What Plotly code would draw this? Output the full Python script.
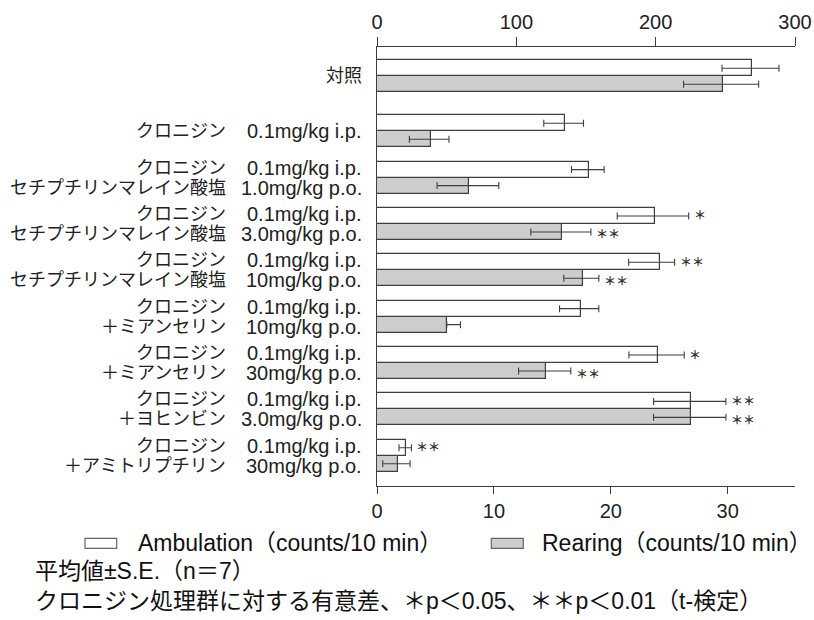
import plotly.graph_objects as go

# ---------------- data ----------------
groups = ["対照", "クロニジン", "セチプチリン1.0", "セチプチリン3.0", "セチプチリン10",
          "ミアンセリン10", "ミアンセリン30", "ヨヒンビン3.0", "アミトリプチリン30"]
label_line1_name = ["", "クロニジン", "クロニジン", "クロニジン", "クロニジン",
                    "クロニジン", "クロニジン", "クロニジン", "クロニジン"]
label_line1_dose = ["対照", "0.1mg/kg i.p.", "0.1mg/kg i.p.", "0.1mg/kg i.p.", "0.1mg/kg i.p.",
                    "0.1mg/kg i.p.", "0.1mg/kg i.p.", "0.1mg/kg i.p.", "0.1mg/kg i.p."]
label_line2_name = ["", "", "セチプチリンマレイン酸塩", "セチプチリンマレイン酸塩", "セチプチリンマレイン酸塩",
                    "＋ミアンセリン", "＋ミアンセリン", "＋ヨヒンビン", "＋アミトリプチリン"]
label_line2_dose = ["", "", "1.0mg/kg p.o.", "3.0mg/kg p.o.", "10mg/kg p.o.",
                    "10mg/kg p.o.", "30mg/kg p.o.", "3.0mg/kg p.o.", "30mg/kg p.o."]

ambulation = [269.3, 135.0, 152.3, 199.2, 202.8, 146.1, 201.8, 225.3, 20.8]
amb_err_minus = [21.7, 15.3, 12.7, 26.8, 22.2, 15.1, 21.0, 26.8, 5.0]
amb_err_plus = [19.2, 13.2, 10.7, 24.5, 10.8, 13.1, 18.7, 25.1, 3.9]
amb_sig = ["", "", "", "＊", "＊＊", "", "＊", "＊＊", "＊＊"]

rearing = [29.57, 4.60, 7.91, 15.84, 17.61, 5.97, 14.44, 26.86, 1.83]
rear_err_minus = [3.34, 1.83, 2.77, 2.68, 1.63, 0.0, 2.33, 3.20, 1.34]
rear_err_plus = [3.08, 1.56, 2.51, 2.46, 1.37, 1.17, 2.14, 2.99, 1.00]
rear_sig = ["", "", "", "＊＊", "＊＊", "", "＊＊", "＊＊", ""]

top_ticks = [0, 100, 200, 300]
bottom_ticks = [0, 10, 20, 30]

legend_amb = "Ambulation（counts/10 min）"
legend_rear = "Rearing（counts/10 min）"
note1 = "平均値±S.E.（n＝7）"
note2 = "クロニジン処理群に対する有意差、＊p＜0.05、＊＊p＜0.01（t-検定）"

# ---------------- layout helpers ----------------
FONT = "Liberation Sans, Arial, Noto Sans CJK JP, sans-serif"
EDGE = "#3f3f3f"
GRAY = "#cdcdcd"

first_gap = 1.185
pos = [0.0] + [first_gap + i for i in range(len(groups) - 1)]
bw = 0.345
y_amb = [p - bw / 2 for p in pos]
y_rear = [p + bw / 2 for p in pos]

fig = go.Figure()

fig.add_trace(go.Bar(
    y=y_amb, x=ambulation, orientation="h", width=bw, xaxis="x2", yaxis="y",
    marker=dict(color="white", line=dict(color=EDGE, width=1.2)),
    error_x=dict(type="data", symmetric=False, array=amb_err_plus, arrayminus=amb_err_minus,
                 color=EDGE, thickness=1.1, width=3.5),
    showlegend=False, name="Ambulation",
))
fig.add_trace(go.Bar(
    y=y_rear, x=rearing, orientation="h", width=bw, xaxis="x", yaxis="y",
    marker=dict(color=GRAY, line=dict(color=EDGE, width=1.2)),
    error_x=dict(type="data", symmetric=False, array=rear_err_plus, arrayminus=rear_err_minus,
                 color=EDGE, thickness=1.1, width=3.5),
    showlegend=False, name="Rearing",
))

annotations = []
NAME_FONT = dict(family=FONT, size=18, color="#222222")
DOSE_FONT = dict(family=FONT, size=20, color="#222222")
name_shift = 228 - 377
dose_shift = 364 - 377
d = 0.215
for i, p in enumerate(pos):
    if label_line2_dose[i] == "":
        if label_line1_name[i]:
            annotations.append(dict(x=0, xref="paper", y=p, yref="y", text=label_line1_name[i],
                                    xanchor="right", xshift=name_shift, showarrow=False,
                                    font=NAME_FONT))
        annotations.append(dict(x=0, xref="paper", y=p, yref="y", text=label_line1_dose[i],
                                xanchor="right", xshift=dose_shift, showarrow=False,
                                font=NAME_FONT if i == 0 else DOSE_FONT))
    else:
        annotations += [
            dict(x=0, xref="paper", y=p - d, yref="y", text=label_line1_name[i],
                 xanchor="right", xshift=name_shift, showarrow=False, font=NAME_FONT),
            dict(x=0, xref="paper", y=p - d, yref="y", text=label_line1_dose[i],
                 xanchor="right", xshift=dose_shift, showarrow=False, font=DOSE_FONT),
            dict(x=0, xref="paper", y=p + d, yref="y", text=label_line2_name[i],
                 xanchor="right", xshift=name_shift, showarrow=False, font=NAME_FONT),
            dict(x=0, xref="paper", y=p + d, yref="y", text=label_line2_dose[i],
                 xanchor="right", xshift=dose_shift, showarrow=False, font=DOSE_FONT),
        ]

# significance marks
STAR_FONT = dict(family="Noto Sans CJK JP", size=12, color="#333333", weight="bold")
for i in range(len(groups)):
    if amb_sig[i]:
        annotations.append(dict(x=ambulation[i] + amb_err_plus[i], xref="x2", y=y_amb[i], yref="y",
                                text=amb_sig[i], xanchor="left", xshift=3, yshift=1,
                                showarrow=False, font=STAR_FONT))
    if rear_sig[i]:
        annotations.append(dict(x=rearing[i] + rear_err_plus[i], xref="x", y=y_rear[i], yref="y",
                                text=rear_sig[i], xanchor="left", xshift=3, yshift=-2,
                                showarrow=False, font=STAR_FONT))

# legend & notes (pixel offsets relative to plot-area left / bottom)
def px_note(text, left_px, center_py, size):
    return dict(x=0, xref="paper", xanchor="left", xshift=left_px - 377,
                y=0, yref="paper", yanchor="middle", yshift=486 - center_py,
                text=text, showarrow=False, font=dict(family=FONT, size=size, color="#111111"))

annotations += [
    px_note(legend_amb, 136, 543, 23),
    px_note(legend_rear, 540, 543, 23),
    px_note(note1, 33, 571, 23),
    px_note(note2, 33, 601, 23),
]

shapes = []
for (l, r, fill) in [(85, 116.7, "white"), (491.3, 523.3, GRAY)]:
    shapes.append(dict(type="rect", xref="paper", xsizemode="pixel", xanchor=0,
                       x0=l - 377, x1=r - 377,
                       yref="paper", ysizemode="pixel", yanchor=0,
                       y0=486 - 538.3, y1=486 - 548.3,
                       fillcolor=fill, line=dict(color="#666666", width=1.2)))

fig.update_layout(
    width=814, height=620, autosize=False,
    margin=dict(l=377, r=19, t=47, b=134, autoexpand=False),
    paper_bgcolor="white", plot_bgcolor="white",
    font=dict(family=FONT, size=18, color="#222222"),
    bargap=0, showlegend=False,
    xaxis=dict(range=[0, 35.76], tickvals=bottom_ticks, side="bottom", automargin=False,
               showline=True, linecolor=EDGE, linewidth=1.2,
               ticks="outside", ticklen=7, tickcolor=EDGE, tickwidth=1.2,
               showgrid=False, zeroline=False, tickfont=dict(size=20)),
    xaxis2=dict(range=[0, 300], tickvals=top_ticks, side="top", overlaying="x", automargin=False,
                showline=True, linecolor=EDGE, linewidth=1.2,
                ticks="outside", ticklen=9, tickcolor=EDGE, tickwidth=1.2,
                showgrid=False, zeroline=False, tickfont=dict(size=20)),
    yaxis=dict(range=[pos[-1] + 0.653, -0.632], showticklabels=False, ticks="", automargin=False,
               showline=True, linecolor=EDGE, linewidth=1.2,
               showgrid=False, zeroline=False),
    annotations=annotations,
    shapes=shapes,
)

fig.write_html("out.html")
